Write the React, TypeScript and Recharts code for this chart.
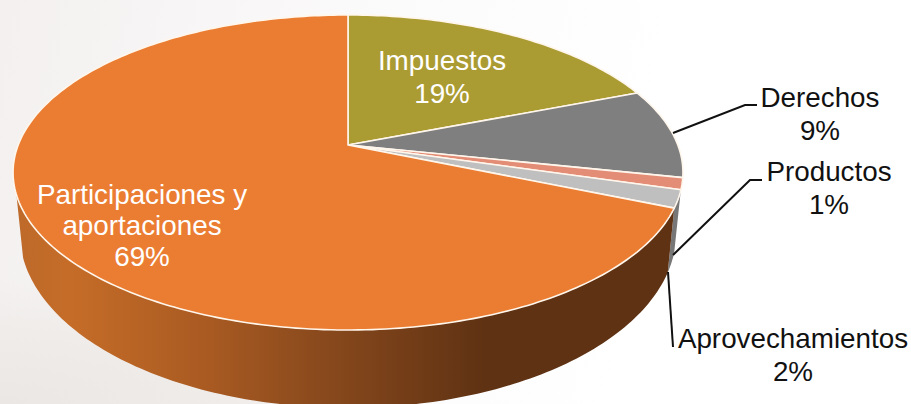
import { Pie, PieChart } from "recharts";

const categories = ["Impuestos", "Derechos", "Productos", "Aprovechamientos", "Participaciones y aportaciones"];
const shares = [19.1, 9.2, 1.2, 1.8, 68.7];
const topColors = ["#AB9B33", "#7F7F7F", "#E38C76", "#BFBFBF", "#EB7D32"];
const wallColors = ["#6F6620", "#555555", "#9A5A4A", "#777777", "url(#wallShade)"];
const labelLines = [["Impuestos"], ["Derechos"], ["Productos"], ["Aprovechamientos"], ["Participaciones y", "aportaciones"]];

const data = categories.map((name, i) => ({ name, value: shares[i], index: i }));

// label placement: centre x, first baseline, colour, leader points
const labelStyle = [
  { x: 442, y: 70, fill: "#fff", leader: "" },
  { x: 820, y: 107, fill: "#111", leader: "M673 133 L745 105 L757 105" },
  { x: 829, y: 181, fill: "#111", leader: "M673 255 L750 180 L762 180" },
  { x: 793, y: 348, fill: "#111", leader: "M668 272 L673 347" },
  { x: 142, y: 204, fill: "#fff", leader: "" },
];

// the disc is seen in perspective: apex is above the centre of the rim ellipse
const APEX_X = 348;
const APEX_Y = 145;
const SCALE_X = 329.8;
const SCALE_Y = 152.7;
const TILT = 0.1746;
const WALL_FROM = 106.3;
const WALL_TO = 252;

function rimPoint(clock: number) {
  const rad = (clock * Math.PI) / 180;
  const down = -Math.cos(rad);
  const w = 1 - TILT * down;
  return { x: (SCALE_X * Math.sin(rad)) / w, y: (SCALE_Y * down) / w };
}

const topPoint = (clock: number) => {
  const p = rimPoint(clock);
  return [APEX_X + p.x, APEX_Y + p.y];
};

const bottomPoint = (clock: number) => {
  const p = rimPoint(clock);
  return [APEX_X + p.x * 0.98, APEX_Y + p.y * 1.11 + 57.5];
};

function walk(from: number, to: number, at: (c: number) => number[]) {
  const pts: number[][] = [];
  const steps = Math.max(1, Math.ceil(Math.abs(to - from)));
  for (let s = 0; s <= steps; s++) pts.push(at(from + ((to - from) * s) / steps));
  return pts;
}

const toPath = (pts: number[][]) => pts.map((p, i) => `${i ? "L" : "M"}${p[0].toFixed(2)} ${p[1].toFixed(2)}`).join(" ");

function TopSlice(props: any) {
  const from = 90 - props.startAngle;
  const to = 90 - props.endAngle;
  const d = `${toPath([[APEX_X, APEX_Y], ...walk(from, to, topPoint)])} Z`;
  return <path d={d} fill={topColors[props.index ?? props.payload?.index]} stroke="#FFF6EC" strokeWidth={1.6} strokeLinejoin="round" />;
}

function WallSlice(props: any) {
  const from = Math.max(90 - props.startAngle, WALL_FROM);
  const to = Math.min(90 - props.endAngle, WALL_TO);
  if (to <= from) return <g />;
  const d = `${toPath([...walk(from, to, topPoint), ...walk(to, from, bottomPoint)])} Z`;
  return <path d={d} fill={wallColors[props.index ?? props.payload?.index]} />;
}

function SliceLabel(props: any) {
  const i = props.index;
  const style = labelStyle[i];
  const lines = [...labelLines[i], `${Math.round(shares[i])}%`];
  const step = i === 4 ? 31 : 33;
  return (
    <g>
      {style.leader && <path d={style.leader} fill="none" stroke="#111" strokeWidth={2} />}
      <text x={style.x} y={style.y} textAnchor="middle" fill={style.fill} fontFamily="Liberation Sans" fontSize={27.8}>
        {lines.map((line, k) => (
          <tspan key={line} x={style.x} dy={k ? step : 0}>
            {line}
          </tspan>
        ))}
      </text>
    </g>
  );
}

export default function App() {
  return (
    <div
      style={{
        position: "fixed",
        left: 0,
        top: 0,
        width: 911,
        height: 404,
        overflow: "hidden",
        background:
          "radial-gradient(ellipse 420px 130px at 0px 404px, #EAE7E5 0%, #EFECEA 55%, rgba(245,242,240,0) 100%), linear-gradient(100deg, #F3F0EF 0%, #F7F5F5 18%, #FCFBFB 40%, #FFFFFF 70%)",
      }}
    >
      <PieChart width={911} height={404} margin={{ top: 0, right: 0, bottom: 0, left: 0 }}>
        <defs>
          <linearGradient id="wallShade" gradientUnits="userSpaceOnUse" x1={15} y1={0} x2={485} y2={0}>
            <stop offset="0%" stopColor="#BE6A2A" />
            <stop offset="12%" stopColor="#C56C28" />
            <stop offset="40%" stopColor="#AA5B22" />
            <stop offset="60%" stopColor="#904D1E" />
            <stop offset="100%" stopColor="#5F3213" />
          </linearGradient>
        </defs>
        <Pie
          data={data}
          dataKey="value"
          nameKey="name"
          cx={APEX_X}
          cy={APEX_Y}
          outerRadius={100}
          startAngle={90}
          endAngle={-270}
          paddingAngle={0}
          stroke="none"
          shape={WallSlice}
          activeShape={WallSlice}
          inactiveShape={WallSlice}
          rootTabIndex={-1}
          isAnimationActive={false}
        />
        <Pie
          data={data}
          dataKey="value"
          nameKey="name"
          cx={APEX_X}
          cy={APEX_Y}
          outerRadius={100}
          startAngle={90}
          endAngle={-270}
          paddingAngle={0}
          shape={TopSlice}
          activeShape={TopSlice}
          inactiveShape={TopSlice}
          label={SliceLabel}
          labelLine={false}
          rootTabIndex={-1}
          isAnimationActive={false}
        />
      </PieChart>
    </div>
  );
}
